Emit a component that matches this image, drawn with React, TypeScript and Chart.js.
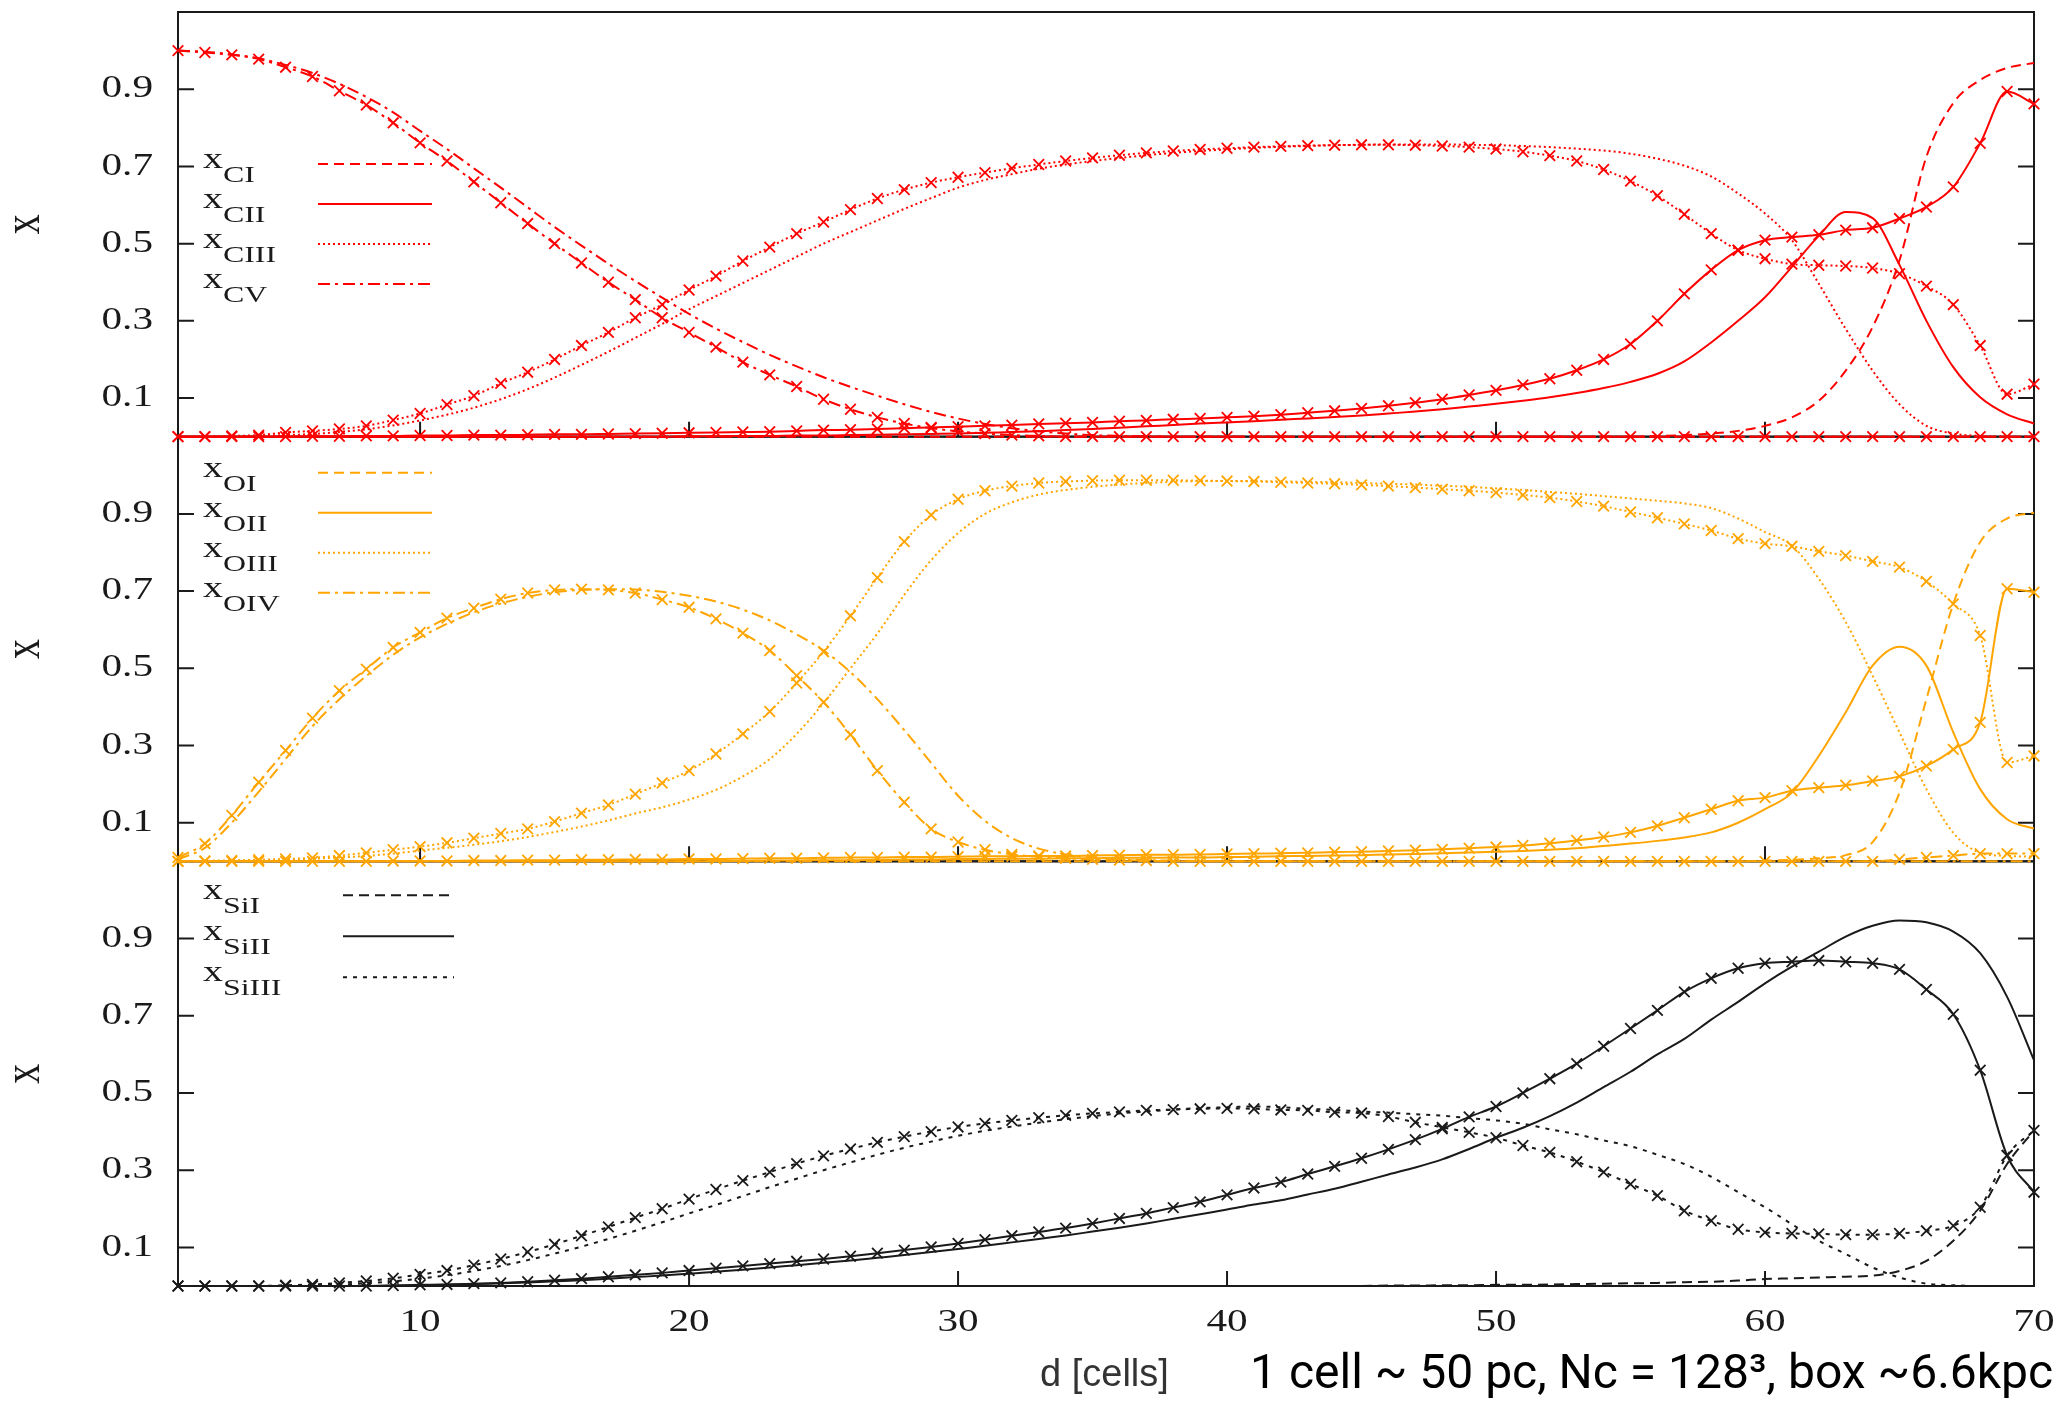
import React, { useEffect, useRef } from 'react';
import { Chart, registerables } from 'chart.js';

Chart.register(...registerables);

// Distance from the source, in cells
const CELLS: number[] = Array.from({ length: 70 }, (_, i) => i + 1);
const X_TICKS = [10, 20, 30, 40, 50, 60, 70];
const Y_TICKS = [0.1, 0.3, 0.5, 0.7, 0.9];

// ---- Carbon ionisation fractions (line = reference run, pts = run drawn with crosses)
const C_I_line = [
  0, 0, 0, 0, 0, 0, 0, 0, 0, 0,
  0, 0, 0, 0, 0, 0, 0, 0, 0, 0,
  0, 0, 0, 0, 0, 0, 0, 0, 0, 0,
  0, 0, 0, 0, 0, 0, 0, 0, 0, 0,
  0, 0, 0, 0, 0, 0, 0, 0, 0, 0,
  0, 0, 0, 0, 0, 0.002, 0.004, 0.008, 0.015, 0.028,
  0.05, 0.093, 0.171, 0.284, 0.457, 0.725, 0.864, 0.924, 0.955, 0.968,
];
const C_II_line = [
  0, 0, 0, 0, 0, 0, 0, 0, 0, 0,
  0, 0, 0, 0, 0, 0, 0, 0, 0, 0.001,
  0.001, 0.002, 0.002, 0.003, 0.003, 0.004, 0.005, 0.006, 0.007, 0.008,
  0.01, 0.012, 0.014, 0.017, 0.02, 0.023, 0.027, 0.03, 0.034, 0.037,
  0.04, 0.044, 0.047, 0.051, 0.055, 0.06, 0.065, 0.071, 0.078, 0.085,
  0.093, 0.102, 0.113, 0.126, 0.142, 0.163, 0.195, 0.244, 0.3, 0.361,
  0.44, 0.52, 0.582, 0.566, 0.445, 0.3, 0.18, 0.102, 0.058, 0.034,
];
const C_III_line = [
  0, 0, 0.001, 0.002, 0.004, 0.007, 0.012, 0.019, 0.029, 0.042,
  0.057, 0.075, 0.097, 0.123, 0.153, 0.186, 0.22, 0.256, 0.292, 0.33,
  0.364, 0.398, 0.432, 0.466, 0.5, 0.53, 0.56, 0.59, 0.618, 0.645,
  0.665, 0.68, 0.694, 0.705, 0.714, 0.722, 0.729, 0.735, 0.74, 0.744,
  0.748, 0.751, 0.753, 0.755, 0.756, 0.757, 0.757, 0.757, 0.756, 0.755,
  0.753, 0.75, 0.746, 0.741, 0.733, 0.72, 0.702, 0.674, 0.63, 0.578,
  0.509, 0.396, 0.279, 0.171, 0.084, 0.028, 0.008, 0.002, 0, 0,
];
const C_V_line = [
  1.0, 0.997, 0.99, 0.98, 0.963, 0.942, 0.914, 0.88, 0.84, 0.792,
  0.745, 0.695, 0.645, 0.594, 0.543, 0.495, 0.448, 0.403, 0.36, 0.318,
  0.28, 0.245, 0.212, 0.182, 0.154, 0.129, 0.106, 0.084, 0.064, 0.047,
  0.033, 0.022, 0.014, 0.008, 0.004, 0.002, 0.001, 0, 0, 0,
  0, 0, 0, 0, 0, 0, 0, 0, 0, 0,
  0, 0, 0, 0, 0, 0, 0, 0, 0, 0,
  0, 0, 0, 0, 0, 0, 0, 0, 0, 0,
];
const C_II_pts = [
  0, 0, 0, 0, 0, 0.001, 0.001, 0.002, 0.002, 0.003,
  0.003, 0.004, 0.004, 0.005, 0.006, 0.006, 0.007, 0.008, 0.009, 0.01,
  0.011, 0.012, 0.013, 0.015, 0.017, 0.018, 0.02, 0.022, 0.024, 0.026,
  0.028, 0.03, 0.033, 0.035, 0.037, 0.04, 0.042, 0.045, 0.047, 0.05,
  0.053, 0.057, 0.062, 0.067, 0.073, 0.08, 0.088, 0.097, 0.108, 0.12,
  0.134, 0.15, 0.172, 0.2, 0.24, 0.3, 0.37, 0.432, 0.483, 0.509,
  0.517, 0.523, 0.535, 0.541, 0.565, 0.595, 0.647, 0.76, 0.894, 0.862,
];
const C_III_pts = [
  0, 0, 0.002, 0.004, 0.011, 0.015, 0.02, 0.028, 0.043, 0.06,
  0.083, 0.106, 0.138, 0.167, 0.2, 0.236, 0.27, 0.308, 0.342, 0.38,
  0.416, 0.455, 0.491, 0.526, 0.556, 0.588, 0.617, 0.64, 0.658, 0.672,
  0.684, 0.695, 0.705, 0.714, 0.722, 0.729, 0.735, 0.74, 0.744, 0.747,
  0.75, 0.752, 0.754, 0.755, 0.756, 0.756, 0.755, 0.753, 0.75, 0.745,
  0.738, 0.728, 0.714, 0.692, 0.662, 0.624, 0.576, 0.526, 0.483, 0.461,
  0.447, 0.444, 0.442, 0.437, 0.422, 0.39, 0.342, 0.236, 0.11, 0.136,
];
const C_V_pts = [
  1.0, 0.995, 0.989, 0.978, 0.957, 0.933, 0.896, 0.859, 0.813, 0.761,
  0.714, 0.66, 0.606, 0.552, 0.5, 0.45, 0.4, 0.355, 0.308, 0.27,
  0.232, 0.193, 0.16, 0.13, 0.097, 0.071, 0.05, 0.034, 0.022, 0.014,
  0.008, 0.004, 0.002, 0, 0, 0, 0, 0, 0, 0,
  0, 0, 0, 0, 0, 0, 0, 0, 0, 0,
  0, 0, 0, 0, 0, 0, 0, 0, 0, 0,
  0, 0, 0, 0, 0, 0, 0, 0, 0, 0,
];

// ---- Oxygen
const O_I_line = [
  0, 0, 0, 0, 0, 0, 0, 0, 0, 0,
  0, 0, 0, 0, 0, 0, 0, 0, 0, 0,
  0, 0, 0, 0, 0, 0, 0, 0, 0, 0,
  0, 0, 0, 0, 0, 0, 0, 0, 0, 0,
  0, 0, 0, 0, 0, 0, 0, 0, 0, 0,
  0, 0, 0, 0, 0, 0, 0, 0, 0, 0.002,
  0.004, 0.008, 0.016, 0.05, 0.178, 0.42, 0.667, 0.827, 0.888, 0.903,
];
const O_II_line = [
  0, 0, 0, 0, 0, 0, 0, 0, 0, 0,
  0, 0, 0, 0, 0, 0, 0, 0, 0, 0,
  0.001, 0.001, 0.002, 0.002, 0.003, 0.003, 0.004, 0.005, 0.005, 0.006,
  0.006, 0.007, 0.007, 0.008, 0.008, 0.009, 0.009, 0.01, 0.01, 0.011,
  0.012, 0.013, 0.014, 0.015, 0.016, 0.018, 0.019, 0.021, 0.023, 0.025,
  0.027, 0.03, 0.034, 0.04, 0.046, 0.053, 0.062, 0.075, 0.1, 0.135,
  0.178, 0.273, 0.386, 0.507, 0.556, 0.507, 0.334, 0.187, 0.109, 0.085,
];
const O_III_line = [
  0, 0.001, 0.002, 0.003, 0.005, 0.007, 0.01, 0.014, 0.02, 0.028,
  0.035, 0.043, 0.052, 0.063, 0.076, 0.09, 0.106, 0.124, 0.14, 0.16,
  0.185, 0.22, 0.265, 0.33, 0.41, 0.5, 0.59, 0.69, 0.78, 0.85,
  0.9, 0.93, 0.95, 0.962, 0.97, 0.976, 0.98, 0.983, 0.985, 0.985,
  0.985, 0.984, 0.983, 0.982, 0.98, 0.978, 0.976, 0.973, 0.97, 0.966,
  0.962, 0.957, 0.952, 0.946, 0.94, 0.934, 0.927, 0.915, 0.888, 0.853,
  0.818, 0.732, 0.62, 0.481, 0.334, 0.187, 0.074, 0.022, 0.014, 0.012,
];
const O_IV_line = [
  0.005, 0.035, 0.1, 0.18, 0.265, 0.35, 0.42, 0.48, 0.535, 0.58,
  0.615, 0.645, 0.668, 0.685, 0.697, 0.703, 0.705, 0.704, 0.698, 0.688,
  0.673, 0.652, 0.624, 0.588, 0.546, 0.49, 0.42, 0.34, 0.255, 0.17,
  0.105, 0.06, 0.033, 0.018, 0.01, 0.006, 0.003, 0.002, 0.001, 0,
  0, 0, 0, 0, 0, 0, 0, 0, 0, 0,
  0, 0, 0, 0, 0, 0, 0, 0, 0, 0,
  0, 0, 0, 0, 0, 0, 0, 0, 0, 0,
];
const O_II_pts = [
  0, 0, 0, 0, 0, 0, 0, 0, 0.001, 0.001,
  0.001, 0.002, 0.002, 0.003, 0.003, 0.004, 0.004, 0.005, 0.005, 0.006,
  0.006, 0.007, 0.008, 0.008, 0.009, 0.01, 0.01, 0.011, 0.011, 0.012,
  0.013, 0.013, 0.014, 0.014, 0.015, 0.016, 0.017, 0.017, 0.018, 0.019,
  0.02, 0.021, 0.022, 0.024, 0.025, 0.027, 0.029, 0.031, 0.034, 0.037,
  0.041, 0.047, 0.054, 0.063, 0.075, 0.092, 0.113, 0.135, 0.157, 0.165,
  0.183, 0.191, 0.197, 0.208, 0.22, 0.247, 0.29, 0.36, 0.706, 0.697,
];
const O_III_pts = [
  0, 0.001, 0.002, 0.004, 0.006, 0.009, 0.015, 0.022, 0.03, 0.038,
  0.048, 0.06, 0.072, 0.084, 0.103, 0.125, 0.146, 0.174, 0.203, 0.235,
  0.278, 0.33, 0.388, 0.462, 0.543, 0.636, 0.735, 0.828, 0.897, 0.938,
  0.96, 0.972, 0.98, 0.984, 0.986, 0.987, 0.987, 0.987, 0.986, 0.985,
  0.984, 0.982, 0.98, 0.978, 0.975, 0.972, 0.968, 0.964, 0.96, 0.955,
  0.949, 0.942, 0.932, 0.92, 0.905, 0.89, 0.874, 0.857, 0.836, 0.823,
  0.816, 0.803, 0.792, 0.777, 0.762, 0.725, 0.667, 0.585, 0.256, 0.273,
];
const O_IV_pts = [
  0.01, 0.046, 0.119, 0.205, 0.287, 0.371, 0.442, 0.498, 0.554, 0.593,
  0.63, 0.656, 0.679, 0.695, 0.703, 0.705, 0.703, 0.695, 0.678, 0.658,
  0.628, 0.591, 0.546, 0.481, 0.412, 0.328, 0.235, 0.153, 0.084, 0.05,
  0.03, 0.018, 0.012, 0.008, 0.005, 0.003, 0.002, 0, 0, 0,
  0, 0, 0, 0, 0, 0, 0, 0, 0, 0,
  0, 0, 0, 0, 0, 0, 0, 0, 0, 0,
  0, 0, 0, 0, 0.005, 0.01, 0.015, 0.02, 0.02, 0.02,
];

// ---- Silicon
const Si_I_line = [
  0, 0, 0, 0, 0, 0, 0, 0, 0, 0,
  0, 0, 0, 0, 0, 0, 0, 0, 0, 0,
  0, 0, 0, 0, 0, 0, 0, 0, 0, 0,
  0, 0, 0, 0, 0, 0, 0, 0, 0, 0,
  0, 0, 0, 0, 0, 0.001, 0.001, 0.002, 0.002, 0.003,
  0.003, 0.004, 0.005, 0.006, 0.007, 0.008, 0.01, 0.011, 0.014, 0.018,
  0.02, 0.022, 0.024, 0.027, 0.039, 0.065, 0.117, 0.195, 0.316, 0.403,
];
const Si_II_line = [
  0, 0, 0, 0, 0, 0, 0, 0, 0.001, 0.002,
  0.003, 0.005, 0.007, 0.009, 0.012, 0.015, 0.019, 0.023, 0.027, 0.032,
  0.037, 0.042, 0.048, 0.054, 0.06, 0.066, 0.073, 0.08, 0.088, 0.096,
  0.104, 0.113, 0.122, 0.131, 0.141, 0.151, 0.162, 0.174, 0.186, 0.198,
  0.211, 0.222, 0.237, 0.252, 0.27, 0.289, 0.307, 0.328, 0.355, 0.384,
  0.41, 0.44, 0.475, 0.515, 0.555, 0.6, 0.64, 0.69, 0.736, 0.784,
  0.827, 0.866, 0.905, 0.933, 0.947, 0.942, 0.918, 0.862, 0.749, 0.585,
];
const Si_III_line = [
  0, 0, 0, 0, 0, 0.002, 0.004, 0.007, 0.012, 0.019,
  0.028, 0.039, 0.052, 0.067, 0.084, 0.102, 0.122, 0.143, 0.165, 0.188,
  0.21, 0.233, 0.256, 0.278, 0.3, 0.32, 0.34, 0.358, 0.374, 0.389,
  0.402, 0.413, 0.423, 0.432, 0.44, 0.447, 0.452, 0.457, 0.461, 0.463,
  0.465, 0.463, 0.459, 0.456, 0.452, 0.449, 0.445, 0.441, 0.435, 0.429,
  0.42, 0.406, 0.393, 0.377, 0.362, 0.34, 0.316, 0.283, 0.243, 0.204,
  0.16, 0.117, 0.083, 0.048, 0.022, 0.006, 0.002, 0, 0, 0,
];
const Si_II_pts = [
  0, 0, 0, 0, 0, 0, 0, 0, 0.001, 0.003,
  0.004, 0.006, 0.008, 0.011, 0.015, 0.019, 0.024, 0.029, 0.034, 0.04,
  0.046, 0.052, 0.058, 0.064, 0.07, 0.077, 0.085, 0.093, 0.101, 0.11,
  0.12, 0.13, 0.14, 0.15, 0.162, 0.175, 0.188, 0.203, 0.218, 0.236,
  0.254, 0.269, 0.29, 0.31, 0.331, 0.354, 0.379, 0.407, 0.438, 0.465,
  0.5, 0.537, 0.576, 0.621, 0.667, 0.714, 0.762, 0.797, 0.823, 0.836,
  0.84, 0.843, 0.84, 0.836, 0.82, 0.768, 0.704, 0.559, 0.338, 0.243,
];
const Si_III_pts = [
  0, 0, 0, 0, 0.002, 0.004, 0.008, 0.013, 0.02, 0.03,
  0.04, 0.054, 0.07, 0.088, 0.108, 0.13, 0.153, 0.177, 0.2, 0.225,
  0.25, 0.273, 0.295, 0.317, 0.337, 0.355, 0.372, 0.387, 0.4, 0.412,
  0.421, 0.429, 0.436, 0.442, 0.447, 0.451, 0.455, 0.457, 0.459, 0.46,
  0.459, 0.456, 0.455, 0.45, 0.448, 0.439, 0.424, 0.411, 0.398, 0.384,
  0.364, 0.346, 0.322, 0.295, 0.264, 0.234, 0.195, 0.169, 0.147, 0.139,
  0.136, 0.135, 0.133, 0.133, 0.136, 0.143, 0.156, 0.204, 0.338, 0.403,
];

// ---- styling
const RED = '#ff0000';
const ORANGE = '#ffa500';
const BLACK = '#1a1a1a';
const INK = '#1a1a1a';
const SERIF = '"Liberation Serif", "Times New Roman", serif';
const STRETCH = 1.33;

const SOLID: number[] = [];
const DASHED = [10, 6];
const DOTTED = [2, 3];
const DASHDOT = [12, 5, 3, 5];
const SI_DASHED = [10, 6];
const SI_SHORT = [4, 6];

type KeyEntry = { ion: string; color: string; dash: number[] };

const C_KEY: KeyEntry[] = [
  { ion: 'CI', color: RED, dash: DASHED },
  { ion: 'CII', color: RED, dash: SOLID },
  { ion: 'CIII', color: RED, dash: DOTTED },
  { ion: 'CV', color: RED, dash: DASHDOT },
];
const O_KEY: KeyEntry[] = [
  { ion: 'OI', color: ORANGE, dash: DASHED },
  { ion: 'OII', color: ORANGE, dash: SOLID },
  { ion: 'OIII', color: ORANGE, dash: DOTTED },
  { ion: 'OIV', color: ORANGE, dash: DASHDOT },
];
const SI_KEY: KeyEntry[] = [
  { ion: 'SiI', color: BLACK, dash: SI_DASHED },
  { ion: 'SiII', color: BLACK, dash: SOLID },
  { ion: 'SiIII', color: BLACK, dash: SI_SHORT },
];

const PANELS = [
  { axis: 'yC', key: C_KEY, keyTop: 152, keyGap: 40, lineFrom: 140, lineTo: 254 },
  { axis: 'yO', key: O_KEY, keyTop: 36, keyGap: 40, lineFrom: 140, lineTo: 254 },
  { axis: 'ySi', key: SI_KEY, keyTop: 34, keyGap: 41, lineFrom: 165, lineTo: 276 },
];

function series(label: string, values: number[], axis: string, color: string, dash: number[], marked: boolean) {
  return {
    label,
    yAxisID: axis,
    data: values.map((v, i) => ({ x: CELLS[i], y: v })),
    borderColor: color,
    backgroundColor: color,
    borderWidth: 2,
    borderDash: dash,
    pointStyle: 'crossRot',
    pointRadius: marked ? 7.5 : 0,
    pointHoverRadius: 0,
    pointBorderWidth: 1.8,
    pointBorderColor: color,
    cubicInterpolationMode: 'monotone',
    fill: false,
    clip: false,
  };
}

function wideText(ctx: CanvasRenderingContext2D, text: string, x: number, y: number, size: number,
  align: CanvasTextAlign, baseline: CanvasTextBaseline): number {
  ctx.save();
  ctx.translate(x, y);
  ctx.scale(STRETCH, 1);
  ctx.font = `${size}px ${SERIF}`;
  ctx.textAlign = align;
  ctx.textBaseline = baseline;
  ctx.fillStyle = INK;
  ctx.fillText(text, 0, 0);
  const w = ctx.measureText(text).width * STRETCH;
  ctx.restore();
  return w;
}

const gnuplotFrame = {
  id: 'gnuplotFrame',
  beforeDatasetsDraw(chart: any) {
    const { ctx, scales } = chart;
    const xs = scales.x;
    ctx.save();
    ctx.strokeStyle = INK;
    ctx.lineWidth = 2;
    ctx.setLineDash([]);
    for (const p of PANELS) {
      const ys = scales[p.axis];
      ctx.strokeRect(xs.left, ys.top, xs.right - xs.left, ys.bottom - ys.top);
      ctx.beginPath();
      for (const v of Y_TICKS) {
        const py = ys.getPixelForValue(v);
        ctx.moveTo(xs.left, py);
        ctx.lineTo(xs.left + 16, py);
        ctx.moveTo(xs.right, py);
        ctx.lineTo(xs.right - 16, py);
      }
      for (const v of X_TICKS) {
        const px = xs.getPixelForValue(v);
        ctx.moveTo(px, ys.bottom);
        ctx.lineTo(px, ys.bottom - 15);
      }
      ctx.stroke();
    }
    ctx.restore();
  },
  afterDraw(chart: any) {
    const { ctx, scales } = chart;
    const xs = scales.x;
    for (const p of PANELS) {
      const ys = scales[p.axis];
      // y tick labels
      for (const v of Y_TICKS) {
        wideText(ctx, v.toFixed(1), xs.left - 25, ys.getPixelForValue(v), 31, 'right', 'middle');
      }
      // rotated axis title
      ctx.save();
      ctx.translate(25, (ys.top + ys.bottom) / 2);
      ctx.scale(STRETCH, 1);
      ctx.rotate(-Math.PI / 2);
      ctx.font = `40px ${SERIF}`;
      ctx.textAlign = 'center';
      ctx.textBaseline = 'middle';
      ctx.fillStyle = INK;
      ctx.fillText('x', 0, 0);
      ctx.restore();
      // key
      p.key.forEach((k, i) => {
        const y = ys.top + p.keyTop + i * p.keyGap;
        const wx = wideText(ctx, 'x', xs.left + 25, y + 4, 30, 'left', 'alphabetic');
        wideText(ctx, k.ion, xs.left + 25 + wx, y + 18, 24, 'left', 'alphabetic');
        ctx.save();
        ctx.strokeStyle = k.color;
        ctx.lineWidth = 2;
        ctx.setLineDash(k.dash);
        ctx.beginPath();
        ctx.moveTo(xs.left + p.lineFrom, y);
        ctx.lineTo(xs.left + p.lineTo, y);
        ctx.stroke();
        ctx.restore();
      });
    }
    const bottom = scales.ySi.bottom;
    for (const v of X_TICKS) {
      wideText(ctx, String(v), xs.getPixelForValue(v), bottom + 37, 31, 'center', 'middle');
    }
  },
};

function yAxis() {
  return {
    type: 'linear',
    min: 0,
    max: 1.1,
    position: 'left',
    stack: 'ions',
    stackWeight: 1,
    grid: { display: false },
    border: { display: false },
    ticks: { display: false },
    afterFit: (s: any) => { s.width = 178; },
  };
}

export default function App() {
  const ref = useRef<HTMLCanvasElement>(null);

  useEffect(() => {
    if (!ref.current) return;
    const datasets = [
      series('CI', C_I_line, 'yC', RED, DASHED, false),
      series('CII', C_II_line, 'yC', RED, SOLID, false),
      series('CIII', C_III_line, 'yC', RED, DOTTED, false),
      series('CV', C_V_line, 'yC', RED, DASHDOT, false),
      series('CII ×', C_II_pts, 'yC', RED, SOLID, true),
      series('CIII ×', C_III_pts, 'yC', RED, DOTTED, true),
      series('CV ×', C_V_pts, 'yC', RED, DASHDOT, true),
      series('OI', O_I_line, 'yO', ORANGE, DASHED, false),
      series('OII', O_II_line, 'yO', ORANGE, SOLID, false),
      series('OIII', O_III_line, 'yO', ORANGE, DOTTED, false),
      series('OIV', O_IV_line, 'yO', ORANGE, DASHDOT, false),
      series('OII ×', O_II_pts, 'yO', ORANGE, SOLID, true),
      series('OIII ×', O_III_pts, 'yO', ORANGE, DOTTED, true),
      series('OIV ×', O_IV_pts, 'yO', ORANGE, DASHDOT, true),
      series('SiI', Si_I_line, 'ySi', BLACK, SI_DASHED, false),
      series('SiII', Si_II_line, 'ySi', BLACK, SOLID, false),
      series('SiIII', Si_III_line, 'ySi', BLACK, SI_SHORT, false),
      series('SiII ×', Si_II_pts, 'ySi', BLACK, SOLID, true),
      series('SiIII ×', Si_III_pts, 'ySi', BLACK, SI_SHORT, true),
    ];
    const chart = new Chart(ref.current, {
      type: 'line',
      data: { datasets } as any,
      options: {
        responsive: false,
        maintainAspectRatio: false,
        devicePixelRatio: 1,
        animation: false,
        events: [],
        layout: { padding: { left: 0, right: 29, top: 12, bottom: 0 } },
        plugins: { legend: { display: false }, tooltip: { enabled: false } },
        scales: {
          x: {
            type: 'linear',
            min: 1,
            max: 70,
            position: 'bottom',
            grid: { display: false },
            border: { display: false },
            ticks: { display: false },
            afterFit: (s: any) => { s.height = 115; },
          },
          ySi: yAxis(),
          yO: yAxis(),
          yC: yAxis(),
        } as any,
      },
      plugins: [gnuplotFrame],
    });
    return () => chart.destroy();
  }, []);

  return (
    <div style={{ position: 'absolute', left: 0, top: 0, width: 2063, height: 1401, overflow: 'hidden', background: '#fff' }}>
      <canvas ref={ref} width={2063} height={1401} style={{ position: 'absolute', left: 0, top: 0, width: 2063, height: 1401 }} />
      <div style={{ position: 'absolute', left: 1040, top: 1354, fontFamily: '"Liberation Sans", Arial, sans-serif', fontSize: 38, lineHeight: '38px', color: '#333', whiteSpace: 'nowrap' }}>
        d [cells]
      </div>
      <div style={{ position: 'absolute', left: 1250, top: 1348, fontFamily: 'Roboto, sans-serif', fontSize: 48, lineHeight: '48px', color: '#000', whiteSpace: 'nowrap' }}>
        1 cell ~ 50 pc, Nc = 128³, box ~6.6kpc
      </div>
    </div>
  );
}
